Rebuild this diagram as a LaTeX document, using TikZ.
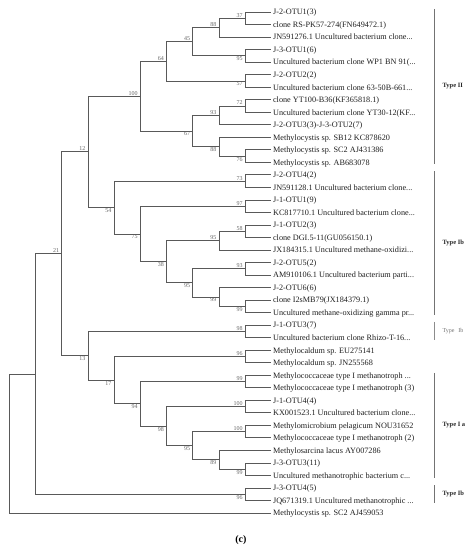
\documentclass[tikz,border=0pt]{standalone}
\usepackage{fontspec}
\setmainfont{Liberation Serif}
\newcommand{\leaffont}{\fontsize{8.2}{9}\selectfont}
\newcommand{\bootfont}{\fontsize{6}{7}\selectfont}
\newcommand{\typefont}{\fontsize{6.5}{7.5}\selectfont\bfseries}

\tikzset{
  leaf/.style={anchor=west, inner xsep=1.4pt, inner ysep=0pt, text height=0.62em, text depth=0.05em, font=\leaffont, text=black!88},
  boot/.style={font=\bootfont, text=black!60, inner xsep=2.5pt, inner ysep=0.8pt},
  branch/.style={draw=black!65, line width=0.75pt, to path={|- (\tikztotarget)}},
  typebar/.style={draw=black!55, line width=1.2pt},
  typelabel/.style={anchor=west, font=\typefont, text=black!85}
}

\begin{document}
\begin{tikzpicture}[x=26.22pt, y=-12.525pt, every edge/.style={branch}]
\useasboundingbox (-0.3547,0.0419) rectangle (17.685,43.955);
% leaves
\node[leaf](l1)at(10,1){J-2-OTU1(3)};
\node[leaf](l2)at(10,2){clone RS-PK57-274(FN649472.1)};
\node[leaf](l3)at(10,3){JN591276.1 Uncultured bacterium clone...};
\node[leaf](l4)at(10,4){J-3-OTU1(6)};
\node[leaf](l5)at(10,5){Uncultured bacterium clone WP1 BN 91(...};
\node[leaf](l6)at(10,6){J-2-OTU2(2)};
\node[leaf](l7)at(10,7){Uncultured bacterium clone 63-50B-661...};
\node[leaf](l8)at(10,8){clone YT100-B36(KF365818.1)};
\node[leaf](l9)at(10,9){Uncultured bacterium clone YT30-12(KF...};
\node[leaf](l10)at(10,10){J-2-OTU3(3)-J-3-OTU2(7)};
\node[leaf](l11)at(10,11){Methylocystis sp. SB12 KC878620};
\node[leaf](l12)at(10,12){Methylocystis sp. SC2 AJ431386};
\node[leaf](l13)at(10,13){Methylocystis sp. AB683078};
\node[leaf](l14)at(10,14){J-2-OTU4(2)};
\node[leaf](l15)at(10,15){JN591128.1 Uncultured bacterium clone...};
\node[leaf](l16)at(10,16){J-1-OTU1(9)};
\node[leaf](l17)at(10,17){KC817710.1 Uncultured bacterium clone...};
\node[leaf](l18)at(10,18){J-1-OTU2(3)};
\node[leaf](l19)at(10,19){clone DGI.5-11(GU056150.1)};
\node[leaf](l20)at(10,20){JX184315.1 Uncultured methane-oxidizi...};
\node[leaf](l21)at(10,21){J-2-OTU5(2)};
\node[leaf](l22)at(10,22){AM910106.1 Uncultured bacterium parti...};
\node[leaf](l23)at(10,23){J-2-OTU6(6)};
\node[leaf](l24)at(10,24){clone I2sMB79(JX184379.1)};
\node[leaf](l25)at(10,25){Uncultured methane-oxidizing gamma pr...};
\node[leaf](l26)at(10,26){J-1-OTU3(7)};
\node[leaf](l27)at(10,27){Uncultured bacterium clone Rhizo-T-16...};
\node[leaf](l28)at(10,28){Methylocaldum sp. EU275141};
\node[leaf](l29)at(10,29){Methylocaldum sp. JN255568};
\node[leaf](l30)at(10,30){Methylococcaceae type I methanotroph ...};
\node[leaf](l31)at(10,31){Methylococcaceae type I methanotroph (3)};
\node[leaf](l32)at(10,32){J-1-OTU4(4)};
\node[leaf](l33)at(10,33){KX001523.1 Uncultured bacterium clone...};
\node[leaf](l34)at(10,34){Methylomicrobium pelagicum NOU31652};
\node[leaf](l35)at(10,35){Methylococcaceae type I methanotroph (2)};
\node[leaf](l36)at(10,36){Methylosarcina lacus AY007286};
\node[leaf](l37)at(10,37){J-3-OTU3(11)};
\node[leaf](l38)at(10,38){Uncultured methanotrophic bacterium c...};
\node[leaf](l39)at(10,39){J-3-OTU4(5)};
\node[leaf](l40)at(10,40){JQ671319.1 Uncultured methanotrophic ...};
\node[leaf](l41)at(10,41){Methylocystis sp. SC2 AJ459053};

% inner nodes (x = level, y = mean of children)
\coordinate[label={[boot]above left:37}](c37)at(9,1.5);
\coordinate[label={[boot]above left:88}](n88)at(8,2.25);
\coordinate[label={[boot]below left:95}](c95)at(9,4.5);
\coordinate[label={[boot]above left:45}](n45)at(7,3.375);
\coordinate[label={[boot]below left:57}](c57)at(9,6.5);
\coordinate[label={[boot]above left:64}](n64)at(6,4.9375);
\coordinate[label={[boot]above left:72}](c72)at(9,8.5);
\coordinate[label={[boot]above left:93}](n93)at(8,9.25);
\coordinate[label={[boot]below left:76}](c76)at(9,12.5);
\coordinate[label={[boot]below left:88}](n88b)at(8,11.75);
\coordinate[label={[boot]below left:67}](n67)at(7,10.5);
\coordinate[label={[boot]above left:100}](n100)at(5,7.71875);
\coordinate[label={[boot]above left:73}](c73)at(9,14.5);
\coordinate[label={[boot]above left:97}](c97)at(9,16.5);
\coordinate[label={[boot]above left:58}](c58)at(9,18.5);
\coordinate[label={[boot]above left:95}](n95a)at(8,19.25);
\coordinate[label={[boot]above left:93}](c93)at(9,21.5);
\coordinate[label={[boot]below left:99}](c99a)at(9,24.5);
\coordinate[label={[boot]below left:99}](n99)at(8,23.75);
\coordinate[label={[boot]below left:95}](n95b)at(7,22.625);
\coordinate[label={[boot]below left:38}](n38)at(6,20.9375);
\coordinate[label={[boot]below left:75}](n75)at(5,18.71875);
\coordinate[label={[boot]below left:54}](n54)at(4,16.609375);
\coordinate[label={[boot]above left:12}](n12)at(3,12.1640625);
\coordinate[label={[boot]above left:98}](c98)at(9,26.5);
\coordinate[label={[boot]above left:96}](c96)at(9,28.5);
\coordinate[label={[boot]above left:99}](c99b)at(9,30.5);
\coordinate[label={[boot]above left:100}](c100)at(9,32.5);
\coordinate[label={[boot]above left:100}](c100b)at(9,34.5);
\coordinate[label={[boot]below left:99}](c99c)at(9,37.5);
\coordinate[label={[boot]below left:89}](n89)at(8,36.75);
\coordinate[label={[boot]below left:95}](n95c)at(7,35.625);
\coordinate[label={[boot]below left:98}](n98)at(6,34.0625);
\coordinate[label={[boot]below left:94}](n94)at(5,32.28125);
\coordinate[label={[boot]below left:17}](n17)at(4,30.390625);
\coordinate[label={[boot]below left:13}](n13)at(3,28.4453);
\coordinate[label={[boot]above left:21}](n21)at(2,20.3047);
\coordinate[label={[boot]below left:96}](c96b)at(9,39.5);
\coordinate(n36)at(1,29.9023);
\coordinate(root)at(0,35.451);

% branches
\path (c37) edge (l1.west) edge (l2.west)
      (n88) edge (c37) edge (l3.west)
      (c95) edge (l4.west) edge (l5.west)
      (n45) edge (n88) edge (c95)
      (c57) edge (l6.west) edge (l7.west)
      (n64) edge (n45) edge (c57)
      (c72) edge (l8.west) edge (l9.west)
      (n93) edge (c72) edge (l10.west)
      (c76) edge (l12.west) edge (l13.west)
      (n88b) edge (l11.west) edge (c76)
      (n67) edge (n93) edge (n88b)
      (n100) edge (n64) edge (n67);
\path (c73) edge (l14.west) edge (l15.west)
      (c97) edge (l16.west) edge (l17.west)
      (c58) edge (l18.west) edge (l19.west)
      (n95a) edge (c58) edge (l20.west)
      (c93) edge (l21.west) edge (l22.west)
      (c99a) edge (l24.west) edge (l25.west)
      (n99) edge (l23.west) edge (c99a)
      (n95b) edge (c93) edge (n99)
      (n38) edge (n95a) edge (n95b)
      (n75) edge (c97) edge (n38)
      (n54) edge (c73) edge (n75)
      (n12) edge (n100) edge (n54);
\path (c98) edge (l26.west) edge (l27.west)
      (c96) edge (l28.west) edge (l29.west)
      (c99b) edge (l30.west) edge (l31.west)
      (c100) edge (l32.west) edge (l33.west)
      (c100b) edge (l34.west) edge (l35.west)
      (c99c) edge (l37.west) edge (l38.west)
      (n89) edge (l36.west) edge (c99c)
      (n95c) edge (c100b) edge (n89)
      (n98) edge (c100) edge (n95c)
      (n94) edge (c99b) edge (n98)
      (n17) edge (c96) edge (n94)
      (n13) edge (c98) edge (n17)
      (n21) edge (n12) edge (n13)
      (c96b) edge (l39.west) edge (l40.west)
      (n36) edge (n21) edge (c96b)
      (root) edge (n36) edge (l41.west);

% groups
\coordinate(t1a)at(16.216,0.76);  \coordinate(t1b)at(16.216,13.15);
\coordinate(t2a)at(16.216,13.7); \coordinate(t2b)at(16.216,25.19);
\coordinate(t3a)at(16.216,25.75); \coordinate(t3b)at(16.216,27.19);
\coordinate(t4a)at(16.216,29.82); \coordinate(t4b)at(16.216,38.22);
\coordinate(t5a)at(16.216,38.78); \coordinate(t5b)at(16.216,40.22);
\draw[typebar] (t1a) -- (t1b) (t2a) -- (t2b) (t4a) -- (t4b) (t5a) -- (t5b);
\draw[typebar, line width=0.9pt, draw=black!45] (t3a) -- (t3b);
\node[typelabel](t1)at(16.39,6.9){Type II};
\node[typelabel](t2)at(16.39,19.44){Type Ib};
\node[typelabel, font=\fontsize{6}{7}\selectfont, text=black!55](t3)at(16.39,26.47){Type\hspace{4pt}Ib};
\node[typelabel](t4)at(16.39,34.02){Type I a};
\node[typelabel](t5)at(16.39,39.5){Type Ib};

\node[font=\fontsize{10}{12}\selectfont\bfseries](cap)at(8.835,43.16){(c)};
\end{tikzpicture}
\end{document}
